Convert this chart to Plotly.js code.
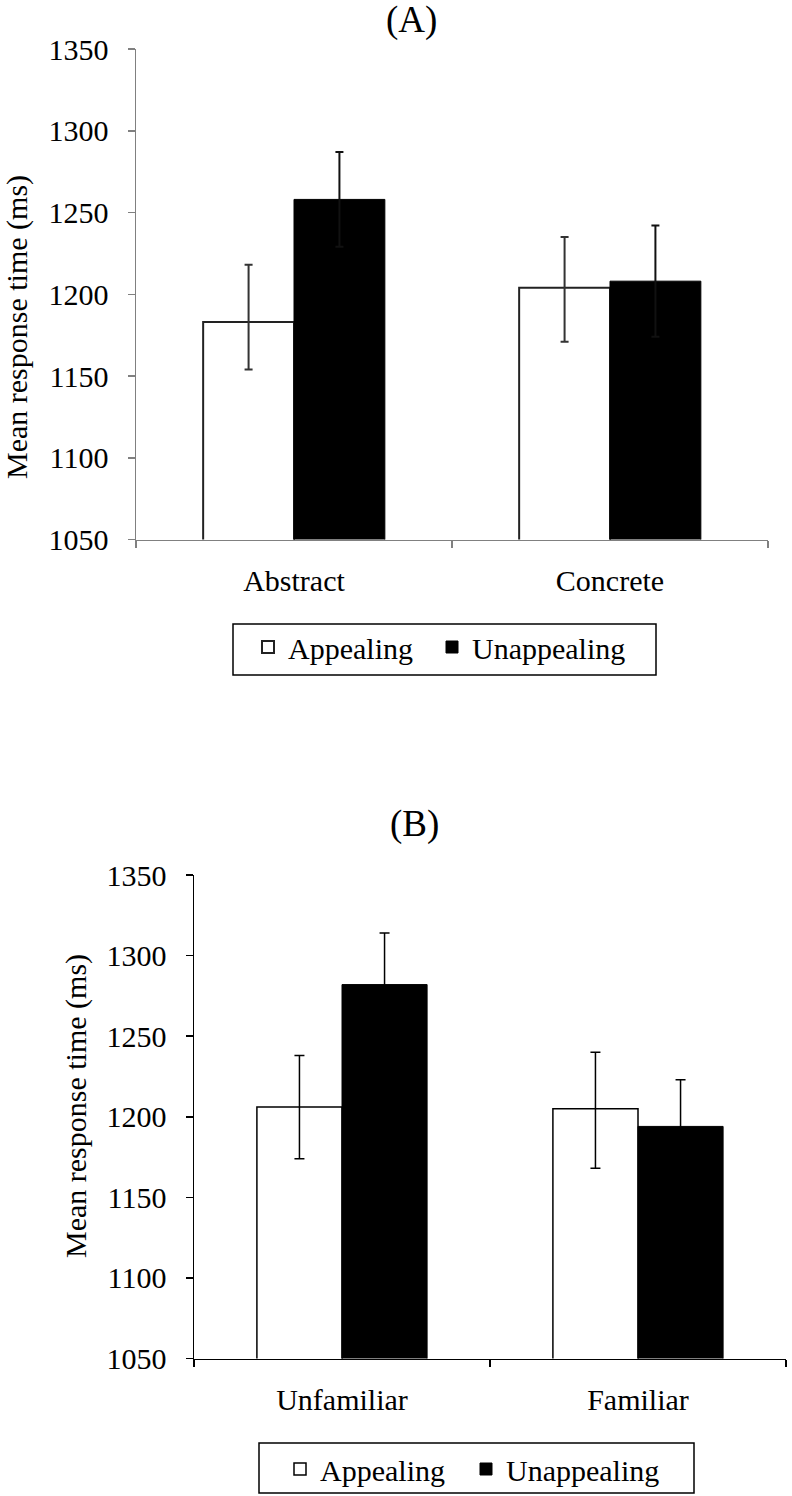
<!DOCTYPE html>
<html>
<head>
<meta charset="utf-8">
<script src="https://cdn.plot.ly/plotly-3.0.1.min.js"></script>
<style>html,body{margin:0;padding:0;background:#fff;}</style>
</head>
<body>
<div id="chart" style="width:792px;height:1496px;"></div>
<script>
// ---- Data ----
const categoriesA = ['Abstract', 'Concrete'];
const appealingA = [1183, 1204];
const appealingA_errPlus = [35, 31];
const appealingA_errMinus = [29, 33];
const unappealingA = [1258, 1208];
const unappealingA_err = [29, 34];

const categoriesB = ['Unfamiliar', 'Familiar'];
const appealingB = [1206, 1205];
const appealingB_errPlus = [32, 35];
const appealingB_errMinus = [32, 37];
const unappealingB = [1282, 1194];
const unappealingB_err = [32, 29];

const yTickValues = [1050, 1100, 1150, 1200, 1250, 1300, 1350];
const seriesNames = ['Appealing', 'Unappealing'];
const panelTitles = ['(A)', '(B)'];
const yTitle = 'Mean response time (ms)';

// ---- Layout helpers ----
const W = 792, H = 1496;
const px = v => v / W;
const py = v => 1 - v / H;
const FONT = 'Liberation Serif, Times New Roman, serif';

const traces = [
  {
    type: 'bar', name: seriesNames[0], x: categoriesA, y: appealingA,
    xaxis: 'x', yaxis: 'y', legend: 'legend', legendwidth: 139,
    marker: { color: '#ffffff', line: { color: '#222', width: 2 } },
    error_y: { type: 'data', symmetric: false, array: appealingA_errPlus, arrayminus: appealingA_errMinus,
               color: '#333', thickness: 2, width: 4 }
  },
  {
    type: 'bar', name: seriesNames[1], x: categoriesA, y: unappealingA,
    xaxis: 'x', yaxis: 'y', legend: 'legend', legendwidth: 170,
    marker: { color: '#000000', line: { color: '#000', width: 1 } },
    error_y: { type: 'data', array: unappealingA_err, color: '#111', thickness: 2, width: 4 }
  },
  {
    type: 'bar', name: seriesNames[0], x: categoriesB, y: appealingB,
    xaxis: 'x2', yaxis: 'y2', legend: 'legend2', legendwidth: 141,
    marker: { color: '#ffffff', line: { color: '#000', width: 1.5 } },
    error_y: { type: 'data', symmetric: false, array: appealingB_errPlus, arrayminus: appealingB_errMinus,
               color: '#000', thickness: 1.5, width: 5 }
  },
  {
    type: 'bar', name: seriesNames[1], x: categoriesB, y: unappealingB,
    xaxis: 'x2', yaxis: 'y2', legend: 'legend2', legendwidth: 170,
    marker: { color: '#000000', line: { color: '#000', width: 1 } },
    error_y: { type: 'data', array: unappealingB_err, color: '#000', thickness: 1.5, width: 5 }
  }
];

function xAxis(domain, color, lw) {
  return {
    domain: domain, type: 'category', range: [-0.5, 1.5],
    showline: true, linecolor: color, linewidth: lw,
    ticks: 'outside', tickson: 'boundaries', ticklen: 7, tickcolor: color, tickwidth: lw,
    showgrid: false, zeroline: false, fixedrange: true,
    tickfont: { family: FONT, size: 30, color: '#000' },
    ticklabelstandoff: 14
  };
}
function yAxis(domain, color, lw, anchor) {
  return {
    domain: domain, anchor: anchor, range: [1050, 1350],
    tickvals: yTickValues, ticktext: yTickValues.map(String),
    showline: true, linecolor: color, linewidth: lw,
    ticks: 'outside', ticklen: 7, tickcolor: color, tickwidth: lw,
    showgrid: false, zeroline: false, fixedrange: true,
    tickfont: { family: FONT, size: 30, color: '#000' },
    ticklabelstandoff: 13
  };
}

const legendBase = {
  orientation: 'h', xanchor: 'left', yanchor: 'top',
  bgcolor: 'rgba(0,0,0,0)', borderwidth: 0,
  font: { family: FONT, size: 30, color: '#000' },
  itemclick: false, itemdoubleclick: false
};

function boxShape(x0, x1, y0, y1) {
  return { type: 'rect', xref: 'paper', yref: 'paper',
           x0: px(x0), x1: px(x1), y0: py(y1), y1: py(y0),
           line: { color: '#000', width: 1.5 }, fillcolor: '#ffffff', layer: 'below' };
}

const layout = {
  width: W, height: H,
  margin: { l: 0, r: 0, t: 0, b: 0 },
  paper_bgcolor: '#ffffff', plot_bgcolor: 'rgba(0,0,0,0)',
  barmode: 'group', bargap: 0.425, bargroupgap: 0,
  showlegend: true,
  font: { family: FONT, color: '#000' },
  xaxis: Object.assign(xAxis([px(136), px(768)], '#808080', 1.5), { anchor: 'y' }),
  yaxis: yAxis([py(539.5), py(49)], '#808080', 1.5, 'x'),
  xaxis2: Object.assign(xAxis([px(194), px(786)], '#000', 1.5), { anchor: 'y2' }),
  yaxis2: yAxis([py(1358.5), py(875)], '#000', 1.5, 'x2'),
  legend: Object.assign({}, legendBase, { x: px(248), y: py(621) }),
  legend2: Object.assign({}, legendBase, { x: px(280), y: py(1443) }),
  shapes: [
    boxShape(233, 656, 624, 675),
    boxShape(259, 694, 1443, 1493)
  ],
  annotations: [
    { text: panelTitles[0], xref: 'paper', yref: 'paper', x: px(411), y: py(20),
      xanchor: 'center', yanchor: 'middle', showarrow: false,
      font: { family: FONT, size: 37, color: '#000' } },
    { text: panelTitles[1], xref: 'paper', yref: 'paper', x: px(414), y: py(824),
      xanchor: 'center', yanchor: 'middle', showarrow: false,
      font: { family: FONT, size: 37, color: '#000' } },
    { text: yTitle, xref: 'paper', yref: 'paper', x: 0, y: py(327),
      xanchor: 'left', yanchor: 'middle', textangle: -90, showarrow: false,
      borderpad: 0, borderwidth: 0,
      font: { family: FONT, size: 30, color: '#000' } },
    { text: yTitle, xref: 'paper', yref: 'paper', x: px(76), y: py(1106),
      xanchor: 'center', yanchor: 'middle', textangle: -90, showarrow: false,
      borderpad: 0, borderwidth: 0,
      font: { family: FONT, size: 30, color: '#000' } }
  ]
};

Plotly.newPlot('chart', traces, layout, { staticPlot: true, displayModeBar: false });
</script>
</body>
</html>
